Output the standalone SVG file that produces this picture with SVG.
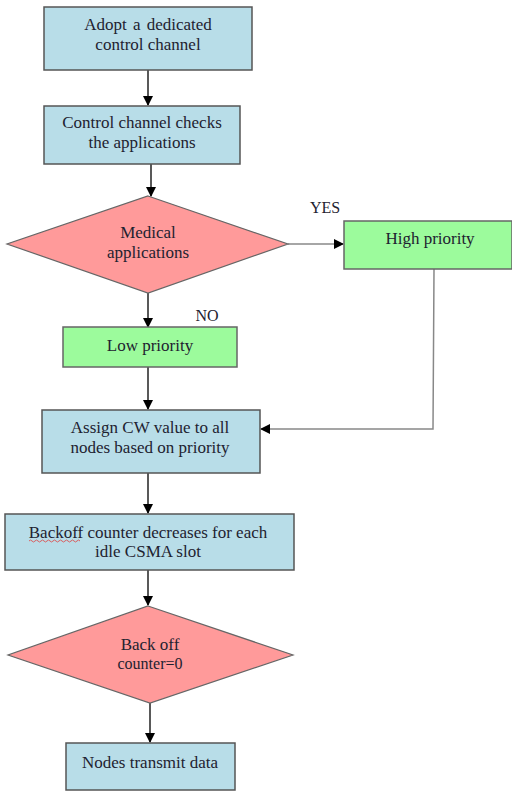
<svg xmlns="http://www.w3.org/2000/svg" width="512" height="793" viewBox="0 0 512 793">
<style>
.blue{fill:#b8dde8;stroke:#555;stroke-width:1.5}
.green{fill:#9cfb9c;stroke:#666;stroke-width:1.5}
.pink{fill:#ff9a9a;stroke:#666;stroke-width:1.2}
text{font-family:'Liberation Serif','Times New Roman','DejaVu Serif',serif;font-size:17px;fill:#1e2230;text-anchor:middle}
.lbl{font-size:16px}
.c{stroke:#222;stroke-width:1.5;fill:none}
.g{stroke:#888;stroke-width:1.5;fill:none}
</style>
<defs>
<marker id="ah" markerWidth="10" markerHeight="10" refX="9" refY="5" orient="auto" markerUnits="userSpaceOnUse">
<path d="M0,0 L10,5 L0,10 Z" fill="#000"/>
</marker>
</defs>
<rect width="512" height="793" fill="#fff"/>
<g id="connectors">
<line class="c" x1="148" y1="70" x2="148" y2="105" marker-end="url(#ah)"/>
<line class="c" x1="151" y1="164" x2="151" y2="196" marker-end="url(#ah)"/>
<line class="g" x1="288" y1="244" x2="343" y2="244" marker-end="url(#ah)"/>
<line class="c" x1="148" y1="293" x2="148" y2="327" marker-end="url(#ah)"/>
<polyline class="g" points="434,269 433,429 261,429" marker-end="url(#ah)"/>
<line class="c" x1="148" y1="367" x2="148" y2="409" marker-end="url(#ah)"/>
<line class="c" x1="148" y1="473" x2="148" y2="513" marker-end="url(#ah)"/>
<line class="c" x1="148" y1="570" x2="148" y2="605" marker-end="url(#ah)"/>
<line class="c" x1="150" y1="703" x2="150" y2="742" marker-end="url(#ah)"/>
<text class="lbl" x="325" y="213" font-family="Liberation Serif, serif">YES</text>
<text class="lbl" x="207" y="321" font-family="Liberation Serif, serif">NO</text>
</g>
<g font-family="Liberation Serif, serif">
<g id="n1"><rect class="blue" x="44" y="7" width="208" height="63"/><text x="148" y="30" word-spacing="2">Adopt a dedicated</text><text x="148" y="50">control channel</text></g>
<g id="n2"><rect class="blue" x="44" y="106" width="196" height="58"/><text x="142" y="128">Control channel checks</text><text x="142" y="148">the applications</text></g>
<g id="d1"><polygon class="pink" points="148,196 288,244 148,293 7,244"/><text x="148" y="238">Medical</text><text x="148" y="258">applications</text></g>
<g id="n3"><rect class="green" x="344" y="221" width="168" height="48"/><text x="430" y="244">High priority</text></g>
<g id="n4"><rect class="green" x="63" y="327" width="174" height="40"/><text x="150" y="351">Low priority</text></g>
<g id="n5"><rect class="blue" x="42" y="410" width="218" height="63"/><text x="150" y="433">Assign CW value to all</text><text x="150" y="453">nodes based on priority</text></g>
<g id="n6"><rect class="blue" x="5" y="514" width="289" height="56"/><text x="148" y="538">Backoff counter decreases for each</text><text x="148" y="557">idle CSMA slot</text>
<path d="M29,541 q1.5,-2 3,0 t3,0 t3,0 t3,0 t3,0 t3,0 t3,0 t3,0 t3,0 t3,0 t3,0 t3,0 t3,0 t3,0 t3,0 t3,0 t3,0" fill="none" stroke="#e04040" stroke-width="0.8"/></g>
<g id="d2"><polygon class="pink" points="148,606 293,655 150,703 8,655"/><text x="150" y="650">Back off</text><text x="150" y="669" style="font-size:16px">counter=0</text></g>
<g id="n7"><rect class="blue" x="66" y="743" width="169" height="47"/><text x="150" y="768">Nodes transmit data</text></g>
</g>
</svg>
